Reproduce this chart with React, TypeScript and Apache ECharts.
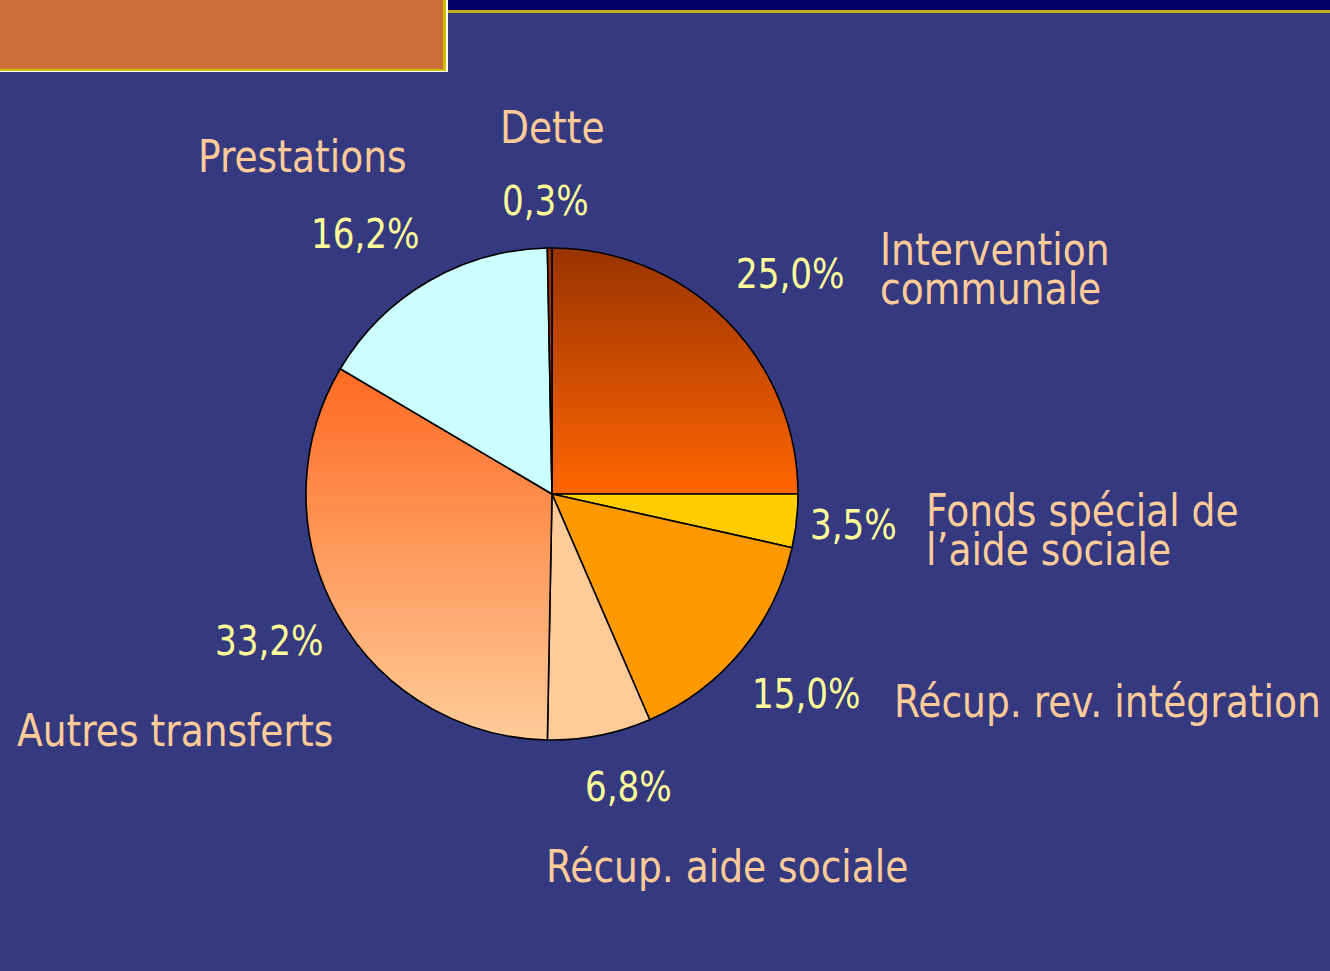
import React, { useEffect, useRef } from "react";
import * as echarts from "echarts";

// Breakdown of revenue shares (percent)
const categories = [
  "Intervention communale",
  "Fonds spécial de l’aide sociale",
  "Récup. rev. intégration",
  "Récup. aide sociale",
  "Autres transferts",
  "Prestations",
  "Dette",
];
// Category names as they are broken over lines in the labels
const nameLines: string[][] = [
  ["Intervention", "communale"],
  ["Fonds spécial de", "l’aide sociale"],
  ["Récup. rev. intégration"],
  ["Récup. aide sociale"],
  ["Autres transferts"],
  ["Prestations"],
  ["Dette"],
];
const shares = [25.0, 3.5, 15.0, 6.8, 33.2, 16.2, 0.3];

// Label placement: [x, y of first line] of the name and [x, y] of the percentage
const namePos: [number, number][] = [
  [880, 250],
  [926, 511],
  [894, 702],
  [546, 867],
  [17, 731],
  [198, 157],
  [500, 128],
];
const pctPos: [number, number][] = [
  [736, 274],
  [810, 525],
  [752, 694],
  [585, 787],
  [215, 641],
  [311, 234],
  [502, 201],
];
const LINE_GAP = 39;

const BG = "#353A80";
const NAME_COLOR = "#FFCC99";
const PCT_COLOR = "#FFFF99";
const FONT = "'DejaVu Sans Condensed', 'Liberation Sans Narrow', sans-serif";
const TEXT_SCALE_X = 0.95;

const sliceColors: any[] = [
  new echarts.graphic.LinearGradient(0, 0, 0, 1, [
    { offset: 0, color: "#993300" },
    { offset: 1, color: "#FF6600" },
  ]),
  "#FFCC00",
  "#FF9900",
  "#FFCC99",
  new echarts.graphic.LinearGradient(0, 0, 0, 1, [
    { offset: 0, color: "#FF6A22" },
    { offset: 1, color: "#FFCC99" },
  ]),
  "#CCFFFF",
  "#993300",
];

const fmtPct = (v: number) => v.toFixed(1).replace(".", ",") + "%";

export default function App() {
  const ref = useRef<HTMLDivElement>(null);

  useEffect(() => {
    if (!ref.current) return;
    const chart = echarts.init(ref.current, null, { renderer: "svg" });

    const labelTexts: any[] = [];
    categories.forEach((_, i) => {
      nameLines[i].forEach((line, j) => {
        labelTexts.push({
          type: "text",
          x: namePos[i][0],
          y: namePos[i][1] + j * LINE_GAP,
          scaleX: TEXT_SCALE_X,
          style: {
            text: line,
            fill: NAME_COLOR,
            font: `44px ${FONT}`,
            align: "left",
            verticalAlign: "middle",
          },
        });
      });
      labelTexts.push({
        type: "text",
        x: pctPos[i][0],
        y: pctPos[i][1],
        scaleX: TEXT_SCALE_X,
        style: {
          text: fmtPct(shares[i]),
          fill: PCT_COLOR,
          font: `40px ${FONT}`,
          align: "left",
          verticalAlign: "middle",
        },
      });
    });

    chart.setOption({
      animation: false,
      backgroundColor: BG,
      graphic: [
        // top navy band with gold rule
        { type: "rect", shape: { x: 440, y: 0, width: 890, height: 10 }, style: { fill: "#000066" } },
        { type: "rect", shape: { x: 440, y: 10, width: 890, height: 3 }, style: { fill: "#B8AE1E" } },
        // orange title box with gold and white edge
        { type: "rect", shape: { x: 0, y: 0, width: 448, height: 72 }, style: { fill: "#FFFFFF" } },
        { type: "rect", shape: { x: 0, y: 0, width: 446, height: 71 }, style: { fill: "#D2BE00" } },
        { type: "rect", shape: { x: 0, y: 0, width: 443, height: 69 }, style: { fill: "#CA6E3A" } },
        ...labelTexts,
      ],
      series: [
        {
          type: "pie",
          center: [552, 494],
          radius: [0, 246],
          startAngle: 90,
          clockwise: true,
          avoidLabelOverlap: false,
          label: { show: false },
          labelLine: { show: false },
          emphasis: { disabled: true },
          itemStyle: { borderColor: "#000000", borderWidth: 1.6 },
          data: shares.map((v, i) => ({
            name: categories[i],
            value: v,
            itemStyle: { color: sliceColors[i] },
          })),
        },
      ],
    });

    return () => chart.dispose();
  }, []);

  return (
    <div
      ref={ref}
      style={{ position: "fixed", left: 0, top: 0, width: 1330, height: 971 }}
    />
  );
}
